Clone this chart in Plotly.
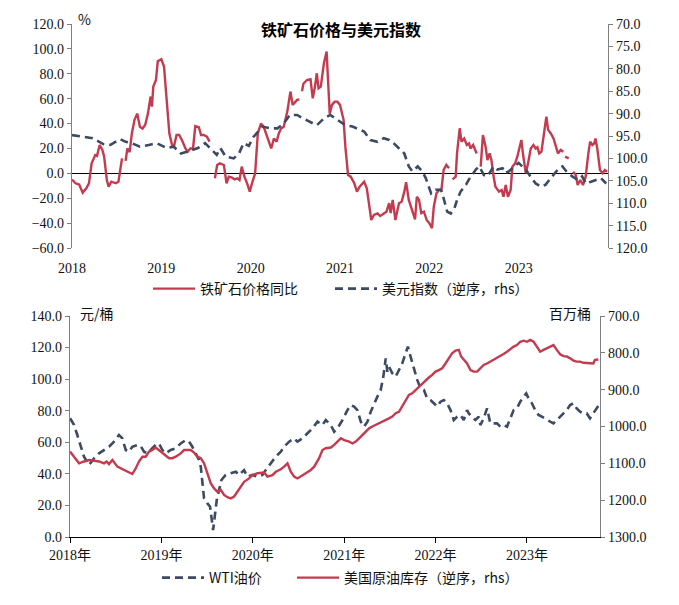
import plotly.graph_objects as go

# ---------------- data (decimal years) ----------------
ore_t = [2018.00, 2018.04, 2018.08, 2018.12, 2018.16, 2018.19, 2018.22, 2018.26, 2018.28, 2018.31,
         2018.34, 2018.36, 2018.39, 2018.41, 2018.44, 2018.49, 2018.52, 2018.56, 2018.58, 2018.60,
         2018.62, 2018.645, 2018.67, 2018.70, 2018.73, 2018.76, 2018.79, 2018.82, 2018.85, 2018.88,
         2018.895, 2018.91, 2018.94, 2018.96, 2019.00, 2019.03, 2019.06, 2019.09, 2019.12, 2019.145,
         2019.17, 2019.20, 2019.23, 2019.27, 2019.295, 2019.325, 2019.355, 2019.38, 2019.42, 2019.445,
         2019.475, 2019.51, 2019.54, 2019.57, 2019.60, 2019.625, 2019.655, 2019.70, 2019.73, 2019.755,
         2019.785, 2019.82, 2019.85, 2019.875, 2019.90, 2019.93, 2019.96, 2019.99, 2020.015, 2020.05,
         2020.08, 2020.115, 2020.145, 2020.18, 2020.21, 2020.23, 2020.26, 2020.29, 2020.315, 2020.34,
         2020.37, 2020.41, 2020.445, 2020.47, 2020.52, 2020.545, 2020.555, 2020.575, 2020.59, 2020.63,
         2020.67, 2020.695, 2020.72, 2020.74, 2020.76, 2020.785, 2020.82, 2020.85, 2020.86, 2020.885,
         2020.91, 2020.94, 2020.97, 2021.00, 2021.04, 2021.06, 2021.09, 2021.12, 2021.16, 2021.19,
         2021.22, 2021.27, 2021.30, 2021.325, 2021.35, 2021.38, 2021.42, 2021.45, 2021.49, 2021.52,
         2021.55, 2021.567, 2021.59, 2021.62, 2021.66, 2021.69, 2021.72, 2021.74, 2021.77, 2021.81,
         2021.84, 2021.86, 2021.885, 2021.91, 2021.94, 2021.97, 2022.00, 2022.03, 2022.05, 2022.08,
         2022.11, 2022.135, 2022.16, 2022.19, 2022.22, 2022.235, 2022.26, 2022.295, 2022.31, 2022.34,
         2022.36, 2022.39, 2022.42, 2022.445, 2022.46, 2022.49, 2022.53, 2022.55, 2022.575, 2022.60,
         2022.63, 2022.65, 2022.675, 2022.695, 2022.72, 2022.74, 2022.78, 2022.81, 2022.83, 2022.855,
         2022.88, 2022.91, 2022.93, 2022.96, 2022.985, 2023.01, 2023.03, 2023.05, 2023.08, 2023.105,
         2023.135, 2023.165, 2023.19, 2023.21, 2023.23, 2023.255, 2023.28, 2023.31, 2023.33, 2023.36,
         2023.39, 2023.41, 2023.44, 2023.47, 2023.50, 2023.51, 2023.52, 2023.56, 2023.585, 2023.61,
         2023.64, 2023.66, 2023.69, 2023.72, 2023.75, 2023.78, 2023.80, 2023.825, 2023.845, 2023.86,
         2023.88, 2023.91, 2023.94, 2023.965, 2023.99]
ore_v = [-5, -8, -9, -15.5, -12, -8, 8, 14.7, 14, 22.8,
         18.8, 13.4, -5.4, -10.7, -6.7, -8, -6.7, 12, None, 10,
         20, 17, 32, 43, 48, 37.5, 36, 39, 48, 61.7,
         53.6, 69.7, 75, 90, 91.7, 85.8, 56, 32, 22.8, 22.8,
         30.8, 30.8, 26.8, 20, 17.4, 20, 20, 38, 37, 30.8,
         30.8, 29.5, 25.5, None, -4, 6.7, 8, 6.7, -8, -2.7,
         -3.2, -4.8, -4, -5.4, 5.4, -2.7, -8, -14.7, -8, 0,
         32, 40, 37.5, 30.8, 24, 20, 28, 25.5, 32, 36,
         37.5, 49.6, 65.7, 55, 59, 59.5, None, 66, 72, 75,
         75.6, 60.3, 69.7, 80.4, 68.4, 69.7, 88.5, 97.9, 83, 48,
         55, 57.6, 57.6, 55, 43, 21.4, -1.3, -2.7, -8, -14.7,
         -10.7, -6.7, -12, -26.8, -37.5, -33.5, -32.2, -34.3, -32.2, -30.8,
         -24, -32, -21.4, -37.5, -24, -22.8, -14.7, -7.2, -21.4, -29.5,
         -37, -18.8, -21.4, -32, -30.8, -37.5, -40, -44, -26.8, -16,
         -13.4, -13.4, 2.7, 6.7, 4, None, -4.8, -2.7, 16, 36.2,
         25.5, 28, 22.8, 24, 20, 22.8, 16, None, 5.4, 30.8,
         21.4, 10.7, 16, 10.7, -2.7, -10.7, -14.7, -13.4, -18.8, -9.4,
         -18.8, -13.4, 5.4, 8, 13.4, 20, 26.8, 14.7, 0, 8,
         20, 22.8, 20, 21, 16, 17.4, 30.8, 45.6, 34.9, 32,
         28, 22.8, 16, 18.8, 17.4, None, 13.4, 12, None, 1.3,
         -1.5, -9.4, -5.4, -9.4, -2.7, 16, 25.5, 22.8, 24, 28,
         20, 2.7, 0, 2.7, 1.3]

dxy_t = [2018.00, 2018.12, 2018.23, 2018.35, 2018.43, 2018.54, 2018.60, 2018.67, 2018.76, 2018.86,
         2018.95, 2019.06, 2019.14, 2019.22, 2019.32, 2019.41, 2019.49, 2019.55, 2019.62, 2019.66,
         2019.72, 2019.81, 2019.87, 2019.92, 2019.98, 2020.03, 2020.05, 2020.13, 2020.22, 2020.30,
         2020.37, 2020.44, 2020.52, 2020.59, 2020.67, 2020.74, 2020.82, 2020.89, 2020.95, 2021.00,
         2021.06, 2021.14, 2021.23, 2021.27, 2021.34, 2021.42, 2021.49, 2021.55, 2021.60, 2021.66,
         2021.72, 2021.77, 2021.81, 2021.87, 2021.92, 2021.96, 2021.99, 2022.02, 2022.07, 2022.13,
         2022.16, 2022.20, 2022.24, 2022.28, 2022.31, 2022.35, 2022.41, 2022.44, 2022.48, 2022.52,
         2022.56, 2022.61, 2022.65, 2022.69, 2022.72, 2022.76, 2022.82, 2022.85, 2022.89, 2022.95,
         2023.00, 2023.04, 2023.08, 2023.13, 2023.19, 2023.25, 2023.30, 2023.36, 2023.41, 2023.45,
         2023.49, 2023.55, 2023.60, 2023.66, 2023.71, 2023.75, 2023.81, 2023.86, 2023.92, 2023.98]
dxy_v = [94.8, 95.2, 95.5, 96.8, 97.0, 95.7, 96.3, 96.6, 97.4, 97.0,
         96.6, 97.7, 97.4, 98.9, 98.2, 97.7, 96.6, 97.7, 99.2, 97.7,
         99.6, 100.0, 98.9, 96.6, 97.2, 95.2, 94.8, 92.9, 93.3, 93.3,
         92.2, 90.3, 90.3, 91.1, 91.9, 92.6, 91.1, 90.3, 91.1, 91.8,
         92.6, 92.9, 93.7, 94.0, 95.9, 96.3, 95.5, 95.9, 96.6, 97.7,
         98.9, 101.8, 102.9, 101.8, 102.9, 104.4, 106.2, 107.8, 107.0, 107.0,
         108.9, 111.9, 112.3, 111.2, 109.3, 107.4, 105.9, 104.8, 103.7, 102.5,
         101.8, 103.7, 104.0, 102.9, 101.8, 102.5, 102.2, 103.3, 102.9, 101.8,
         101.0, 101.8, 102.5, 104.0, 105.6, 106.3, 105.9, 104.4, 103.3, 102.2,
         101.8, 103.3, 104.0, 104.8, 104.0, 105.6, 105.2, 104.8, 104.4, 105.6]

wti_t = [2018.000, 2018.044, 2018.080, 2018.117, 2018.153, 2018.208, 2018.263, 2018.318, 2018.372, 2018.427,
         2018.482, 2018.536, 2018.573, 2018.610, 2018.646, 2018.682, 2018.737, 2018.774, 2018.810, 2018.847,
         2018.901, 2018.938, 2018.974, 2019.011, 2019.047, 2019.102, 2019.157, 2019.212, 2019.266, 2019.303,
         2019.339, 2019.376, 2019.412, 2019.431, 2019.449, 2019.467, 2019.504, 2019.533, 2019.547, 2019.566,
         2019.584, 2019.606, 2019.631, 2019.657, 2019.704, 2019.759, 2019.814, 2019.850, 2019.905, 2019.942,
         2019.996, 2020.051, 2020.106, 2020.142, 2020.197, 2020.252, 2020.307, 2020.343, 2020.398, 2020.453,
         2020.489, 2020.544, 2020.599, 2020.653, 2020.708, 2020.763, 2020.799, 2020.854, 2020.891, 2020.927,
         2020.982, 2021.036, 2021.073, 2021.109, 2021.145, 2021.182, 2021.218, 2021.255, 2021.291, 2021.327,
         2021.364, 2021.400, 2021.429, 2021.455, 2021.473, 2021.491, 2021.527, 2021.564, 2021.600, 2021.636,
         2021.673, 2021.698, 2021.727, 2021.764, 2021.800, 2021.836, 2021.873, 2021.909, 2021.945, 2021.982,
         2022.018, 2022.055, 2022.091, 2022.127, 2022.164, 2022.200, 2022.236, 2022.273, 2022.309, 2022.345,
         2022.364, 2022.400, 2022.436, 2022.473, 2022.491, 2022.527, 2022.564, 2022.600, 2022.636, 2022.673,
         2022.709, 2022.745, 2022.782, 2022.818, 2022.855, 2022.891, 2022.927, 2022.964, 2022.993, 2023.018,
         2023.055, 2023.091, 2023.127, 2023.164, 2023.218, 2023.255, 2023.291, 2023.327, 2023.364, 2023.400,
         2023.436, 2023.473, 2023.509, 2023.545, 2023.582, 2023.618, 2023.655, 2023.691, 2023.727, 2023.764,
         2023.800]
wti_v = [75.2, 71.0, 64.6, 57.2, 50.9, 45.6, 49.8, 53.0, 55.1, 57.2,
         60.4, 64.6, 62.5, 55.1, 54.0, 57.2, 58.3, 57.5, 54.0, 53.0,
         56.2, 58.3, 59.3, 55.1, 53.0, 55.1, 56.2, 59.3, 61.4, 60.4,
         57.2, 53.0, 48.8, 44.6, 34.0, 24.5, 21.3, 19.2, 12.9, 4.4,
         12.9, 23.4, 29.8, 36.1, 39.3, 40.3, 41.4, 39.3, 42.4, 38.2,
         39.3, 38.2, 39.3, 42.4, 46.7, 50.9, 54.0, 57.2, 60.4, 62.5,
         60.4, 62.5, 65.7, 68.8, 73.1, 70.9, 74.1, 70.9, 66.7, 68.8,
         74.1, 80.4, 83.6, 82.6, 80.4, 73.1, 69.9, 73.1, 79.4, 84.7,
         88.9, 93.1, 101.6, 113.2, 104.7, 107.9, 103.7, 101.6, 105.8, 110.0,
         116.4, 120.6, 114.2, 105.8, 99.5, 94.2, 93.1, 87.8, 86.8, 84.7,
         82.6, 85.7, 86.8, 84.7, 80.4, 74.1, 76.2, 77.3, 74.1, 80.4,
         78.3, 76.2, 74.1, 76.2, 70.9, 75.2, 81.5, 72.0, 72.0, 72.0,
         69.9, 70.9, 69.9, 75.2, 80.4, 81.5, 85.7, 88.9, 91.0, 87.8,
         84.7, 80.4, 77.3, 76.2, 74.1, 73.1, 72.0, 74.1, 76.2, 78.3,
         80.4, 83.6, 84.7, 81.5, 79.4, 78.3, 78.3, 75.2, 78.3, 81.5,
         84.7]

inv_t = [2018.000, 2018.044, 2018.099, 2018.153, 2018.208, 2018.263, 2018.318, 2018.372, 2018.401, 2018.427,
         2018.464, 2018.518, 2018.573, 2018.628, 2018.682, 2018.719, 2018.755, 2018.792, 2018.828, 2018.865,
         2018.901, 2018.938, 2018.993, 2019.029, 2019.084, 2019.120, 2019.157, 2019.212, 2019.248, 2019.285,
         2019.321, 2019.358, 2019.394, 2019.431, 2019.467, 2019.504, 2019.540, 2019.577, 2019.613, 2019.650,
         2019.686, 2019.723, 2019.759, 2019.796, 2019.832, 2019.869, 2019.905, 2019.960, 2019.996, 2020.051,
         2020.088, 2020.124, 2020.161, 2020.215, 2020.252, 2020.307, 2020.343, 2020.380, 2020.416, 2020.453,
         2020.489, 2020.526, 2020.580, 2020.635, 2020.672, 2020.726, 2020.763, 2020.799, 2020.854, 2020.891,
         2020.927, 2020.964, 2021.000, 2021.055, 2021.091, 2021.127, 2021.164, 2021.200, 2021.236, 2021.273,
         2021.309, 2021.345, 2021.382, 2021.418, 2021.455, 2021.491, 2021.527, 2021.564, 2021.600, 2021.636,
         2021.673, 2021.709, 2021.745, 2021.782, 2021.818, 2021.855, 2021.891, 2021.927, 2021.964, 2022.000,
         2022.036, 2022.073, 2022.109, 2022.145, 2022.182, 2022.218, 2022.255, 2022.280, 2022.309, 2022.345,
         2022.382, 2022.418, 2022.455, 2022.491, 2022.527, 2022.564, 2022.600, 2022.636, 2022.673, 2022.709,
         2022.745, 2022.782, 2022.818, 2022.855, 2022.891, 2022.927, 2022.964, 2023.000, 2023.036, 2023.073,
         2023.109, 2023.145, 2023.182, 2023.218, 2023.255, 2023.291, 2023.327, 2023.364, 2023.400, 2023.436,
         2023.473, 2023.509, 2023.545, 2023.582, 2023.618, 2023.655, 2023.691, 2023.727, 2023.745, 2023.782]
inv_v = [1068, 1082, 1100, 1095, 1091, 1093, 1095, 1100, 1095, 1102,
         1091, 1109, 1116, 1123, 1129, 1114, 1095, 1082, 1082, 1068,
         1064, 1057, 1068, 1077, 1086, 1086, 1082, 1073, 1064, 1064,
         1064, 1071, 1082, 1086, 1100, 1127, 1154, 1168, 1177, 1172,
         1186, 1192, 1195, 1190, 1177, 1163, 1150, 1141, 1132, 1127,
         1127, 1125, 1136, 1132, 1123, 1116, 1109, 1100, 1123, 1136,
         1141, 1136, 1127, 1118, 1109, 1086, 1064, 1059, 1057, 1050,
         1041, 1032, 1037, 1041, 1046, 1041, 1032, 1023, 1014, 1005,
         1000, 996, 991, 987, 982, 978, 973, 964, 960, 946,
         928, 914, 910, 901, 892, 885, 874, 867, 860, 851,
         847, 842, 829, 815, 801, 794, 792, 810, 819, 829,
         847, 851, 851, 842, 833, 829, 824, 818, 815, 810,
         803, 797, 790, 783, 779, 770, 767, 770, 765, 770,
         783, 797, 792, 788, 783, 779, 792, 804, 809, 810,
         815, 821, 824, 824, 827, 827, 829, 829, 819, 818]

year_ticks = [2018, 2019, 2020, 2021, 2022, 2023]
top_tick_text = ["2018", "2019", "2020", "2021", "2022", "2023"]
bottom_tick_text = ["2018年", "2019年", "2020年", "2021年", "2022年", "2023年"]

# ---------------- styling ----------------
RED = "#C43B4F"
NAVY = "#3D4A62"
GRAY = "#808080"
W, H = 679, 605
NUM_FONT = dict(family="Liberation Serif", size=14, color="#111111")
CJK = "Noto Sans CJK SC"

def px_x(p):
    return p / W

def px_y(p):
    return 1 - p / H

top_xdom = [px_x(72), px_x(608)]
top_ydom = [px_y(248), px_y(24)]
bot_xdom = [px_x(70), px_x(600)]
bot_ydom = [px_y(537), px_y(316)]
top_range = [-60, 120]
zero_pos = top_ydom[0] + (top_ydom[1] - top_ydom[0]) * (0 - top_range[0]) / (top_range[1] - top_range[0])

dash_line = dict(color=NAVY, width=2.6, dash="8px,5px")
solid_line = dict(color=RED, width=2.4)

fig = go.Figure()
fig.add_trace(go.Scatter(x=ore_t, y=ore_v, mode="lines", name="铁矿石价格同比", showlegend=True,
                         line=solid_line, connectgaps=False, xaxis="x", yaxis="y", legend="legend"))
fig.add_trace(go.Scatter(x=dxy_t, y=dxy_v, mode="lines", name="美元指数（逆序，rhs）", showlegend=True,
                         line=dash_line, xaxis="x", yaxis="y3", legend="legend2"))
fig.add_trace(go.Scatter(x=wti_t, y=wti_v, mode="lines", name="WTI油价", showlegend=True,
                         line=dash_line, xaxis="x2", yaxis="y2", legend="legend3"))
fig.add_trace(go.Scatter(x=inv_t, y=inv_v, mode="lines", name="美国原油库存（逆序，rhs）", showlegend=True,
                         line=solid_line, xaxis="x2", yaxis="y4", legend="legend4"))

common_y = dict(showgrid=False, showline=True, linecolor=GRAY, linewidth=1.2,
                ticks="outside", ticklen=4, tickcolor=GRAY, tickfont=NUM_FONT,
                tickformat=".1f", automargin=False)

def leg(xp, yp):
    return dict(orientation="h", x=px_x(xp), y=px_y(yp), xanchor="left", yanchor="middle",
                bgcolor="rgba(0,0,0,0)", itemwidth=42,
                font=dict(family=CJK, size=14, color="#111111"))

def note(text, xp, yp, size=14, color="#111111"):
    return dict(text=text, x=px_x(xp), y=px_y(yp), xref="paper", yref="paper",
                xanchor="center", yanchor="middle", showarrow=False,
                font=dict(family=CJK, size=size, color=color))

fig.update_layout(
    width=W, height=H, margin=dict(l=0, r=0, t=0, b=0, autoexpand=False),
    paper_bgcolor="white", plot_bgcolor="white", showlegend=True,
    xaxis=dict(domain=top_xdom, range=[2018, 2024], anchor="y", tickvals=year_ticks,
               ticktext=top_tick_text, showgrid=False, showline=False, zeroline=False,
               ticks="outside", ticklen=7, tickcolor="rgba(0,0,0,0)", tickfont=NUM_FONT,
               automargin=False),
    xaxis5=dict(domain=top_xdom, range=[2018, 2024], overlaying="x", anchor="free",
                position=zero_pos, tickvals=year_ticks, showticklabels=False,
                showgrid=False, showline=False, zeroline=False, automargin=False,
                ticks="outside", ticklen=4, tickcolor="black"),
    yaxis=dict(domain=top_ydom, range=top_range, dtick=20, anchor="x", **common_y,
               zeroline=True, zerolinecolor="black", zerolinewidth=1.2),
    yaxis3=dict(overlaying="y", side="right", anchor="x", range=[120, 70], dtick=5,
                zeroline=False, **common_y),
    xaxis2=dict(domain=bot_xdom, range=[2018, 2023.8], anchor="y2", tickvals=year_ticks,
                ticktext=bottom_tick_text, showgrid=False, showline=True, linecolor="black",
                linewidth=1.2, zeroline=False, ticks="outside", ticklen=5, tickcolor="black",
                automargin=False,
                tickfont=dict(family="Liberation Serif, " + CJK, size=14, color="#111111")),
    yaxis2=dict(domain=bot_ydom, range=[0, 140], dtick=20, anchor="x2", zeroline=False, **common_y),
    yaxis4=dict(overlaying="y2", side="right", anchor="x2", range=[1300, 700], dtick=100,
                zeroline=False, **common_y),
    legend=leg(148, 289),
    legend2=leg(330, 289),
    legend3=leg(157, 578),
    legend4=leg(292, 578),
    annotations=[
        note("<b>铁矿石价格与美元指数</b>", 341, 29, size=16, color="black"),
        note("%", 84, 19),
        note("元/桶", 97, 313),
        note("百万桶", 570, 313),
    ],
)

fig.write_html("out.html", config={"displayModeBar": False},
               post_script="document.body.style.margin='0';document.body.style.padding='0';")
